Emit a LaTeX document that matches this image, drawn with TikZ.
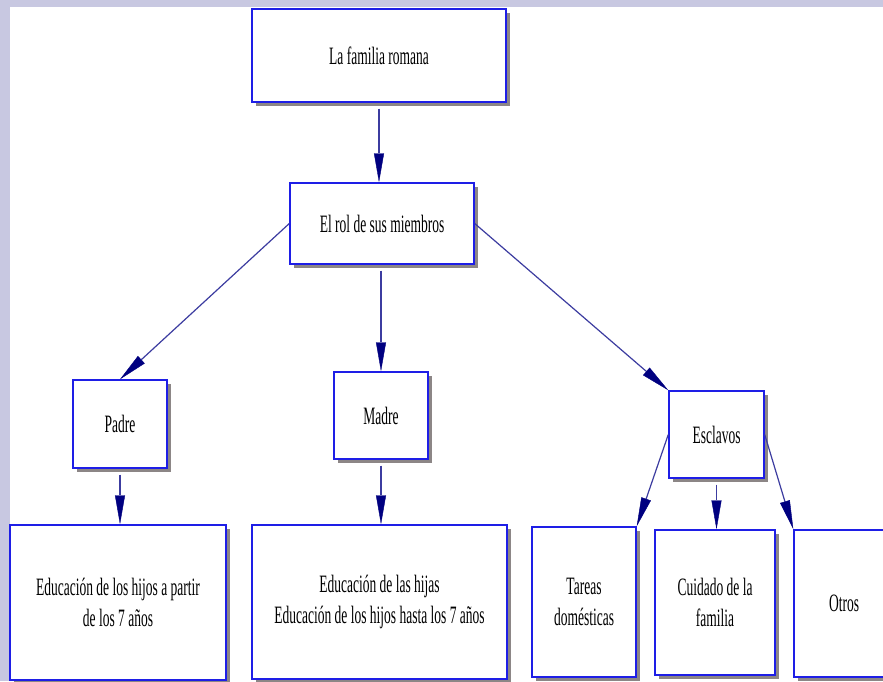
\documentclass[tikz,border=0pt]{standalone}
\usepackage{fontspec}
\newfontfamily\diagfont[FakeStretch=0.54]{Liberation Serif}
\usetikzlibrary{arrows.meta,shadows}
\definecolor{lav}{RGB}{200,200,225}
\definecolor{boxblue}{RGB}{30,30,230}
\definecolor{shadowgray}{RGB}{140,134,134}
\definecolor{linecol}{RGB}{60,60,160}
\definecolor{tipcol}{RGB}{0,0,128}
\tikzset{
  box/.style={draw=boxblue, line width=1.4pt, fill=white, rectangle, inner sep=0pt,
    align=center, font=\diagfont\fontsize{25}{31}\selectfont,
    general shadow={fill=shadowgray, shadow xshift=4pt, shadow yshift=-4pt}},
  conn/.style={draw=linecol, line width=1.2pt,
    -{Triangle[length=29pt,width=10pt,color=tipcol,fill=tipcol,line width=0.4pt]}}
}
\begin{document}
\begin{tikzpicture}[x=1pt,y=-1pt]
\useasboundingbox (0,0) rectangle (883,681);
\clip (0,0) rectangle (883,681);
\fill[lav] (0,0) rectangle (883,681);
\fill[white] (10,7) rectangle (883,681);
\node[box, minimum width=254pt, minimum height=93pt] (top) at (379,55.5) {La familia romana};
\node[box, minimum width=184pt, minimum height=81pt] (rol) at (382,223.5) {El rol de sus miembros};
\node[box, minimum width=94pt, minimum height=88pt] (padre) at (120,424) {Padre};
\node[box, minimum width=94pt, minimum height=87pt] (madre) at (381,415.5) {Madre};
\node[box, minimum width=95pt, minimum height=87pt] (escl) at (716.5,434.5) {Esclavos};
\node[box, minimum width=216pt, minimum height=155pt] (edup) at (118,602.5) {Educación de los hijos a partir\\de los 7 años};
\node[box, minimum width=255pt, minimum height=154pt] (edum) at (379.5,602) {Educación de las hijas\\Educación de los hijos hasta los 7 años};
\node[box, minimum width=104pt, minimum height=150pt] (tareas) at (584,602) {Tareas\\domésticas};
\node[box, minimum width=120pt, minimum height=145pt] (cuid) at (715,602.5) {Cuidado de la\\familia};
\node[box, minimum width=100pt, minimum height=147pt] (otros) at (844,603.5) {Otros};
\draw[conn] (top.south) ++(0,6) coordinate (a1) -- (a1 |- rol.north);
\draw[conn] (rol.west) -- (padre.north);
\draw[conn] (madre.north |- rol.south) ++(0,6) coordinate (a2) -- (madre.north);
\draw[conn] (rol.east) -- (escl.north west);
\draw[conn] (padre.south) ++(0,6) coordinate (a3) -- (a3 |- edup.north);
\draw[conn] (madre.south) ++(0,6) coordinate (a4) -- (a4 |- edum.north);
\draw[conn] (escl.west) -- (tareas.north east);
\draw[conn] (escl.south) ++(0,6) coordinate (a5) -- (a5 |- cuid.north);
\draw[conn] (escl.east) -- (otros.north west);
\end{tikzpicture}
\end{document}
